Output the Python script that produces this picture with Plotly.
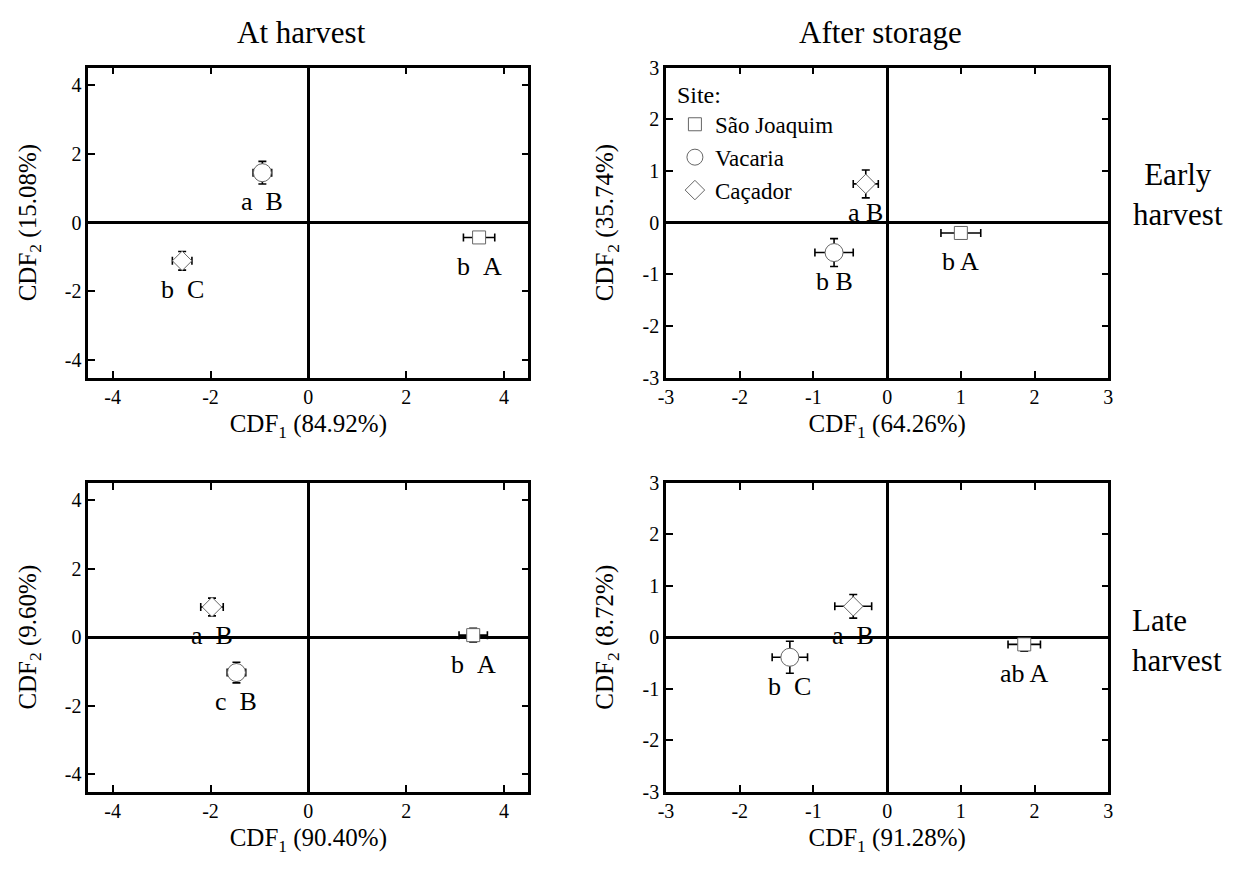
import plotly.graph_objects as go

sites = ["São Joaquim", "Vacaria", "Caçador"]
symbols = ["square", "circle", "diamond"]
sizes = [13, 18, 15]

# Panel order: early/at harvest, early/after storage, late/at harvest, late/after storage
# Each list is ordered by site: São Joaquim, Vacaria, Caçador
p_x = [[3.49, -0.94, -2.58], [1.00, -0.72, -0.29], [3.37, -1.47, -1.97], [1.86, -1.32, -0.46]]
p_y = [[-0.43, 1.45, -1.11], [-0.20, -0.58, 0.75], [0.06, -1.03, 0.88], [-0.14, -0.39, 0.60]]
p_ex = [[0.32, 0.19, 0.20], [0.27, 0.26, 0.17], [0.29, 0.19, 0.23], [0.22, 0.24, 0.25]]
p_ey = [[0.16, 0.33, 0.27], [0.12, 0.27, 0.27], [0.20, 0.30, 0.26], [0.13, 0.31, 0.23]]
p_lab = [["b\u00a0\u00a0A", "a\u00a0\u00a0B", "b\u00a0\u00a0C"],
         ["b A", "b B", "a B"],
         ["b\u00a0\u00a0A", "c\u00a0\u00a0B", "a\u00a0\u00a0B"],
         ["ab A", "b\u00a0\u00a0C", "a\u00a0\u00a0B"]]

xvar = ["84.92", "64.26", "90.40", "91.28"]
yvar = ["15.08", "35.74", "9.60", "8.72"]

wide_ticks = [-4, -2, 0, 2, 4]
narrow_ticks = [-3, -2, -1, 0, 1, 2, 3]
wide_range = [-4.5, 4.5]
narrow_range = [-3, 3]

# page is 1239x872; the body keeps its default 8px margin, so the figure is 16px smaller
OFF = 8
W, H = 1239 - 2 * OFF, 872 - 2 * OFF
col_px = [(81, 526), (665, 1112)]
row_px = [(58, 376), (484, 801)]


def px_x(v):
    return (v - OFF) / W


def px_y(v):
    return 1 - (v - OFF) / H


FONT = "Liberation Serif, Times New Roman, serif"
fig = go.Figure()

for p in range(4):
    r, c = divmod(p, 2)
    xa = "x" if p == 0 else f"x{p+1}"
    ya = "y" if p == 0 else f"y{p+1}"
    for s in range(3):
        fig.add_trace(go.Scatter(
            x=[p_x[p][s]], y=[p_y[p][s]], xaxis=xa, yaxis=ya,
            mode="markers", name=sites[s],
            showlegend=(p == 0),
            marker=dict(symbol=symbols[s], size=sizes[s],
                        color="white", line=dict(color="#666666", width=1)),
            error_x=dict(type="data", array=[p_ex[p][s]], color="black", thickness=1.6, width=4),
            error_y=dict(type="data", array=[p_ey[p][s]], color="black", thickness=1.6, width=4),
        ))
        fig.add_annotation(x=p_x[p][s], y=p_y[p][s], xref=xa, yref=ya, text=p_lab[p][s],
                           showarrow=False, yshift=-29, font=dict(family=FONT, size=26, color="black"))
    ticks = wide_ticks if c == 0 else narrow_ticks
    rng = wide_range if c == 0 else narrow_range
    ax = dict(range=rng, tickvals=ticks, ticktext=[str(t) for t in ticks],
              ticks="inside", ticklen=7, tickwidth=2, tickcolor="black",
              showline=True, linewidth=2.5, linecolor="black", mirror="ticks",
              showgrid=False, zeroline=True, zerolinewidth=2.5, zerolinecolor="black",
              tickfont=dict(family=FONT, size=20, color="black"), fixedrange=True)
    x0, x1 = col_px[c]
    y0, y1 = row_px[r]
    xkey = "xaxis" if p == 0 else f"xaxis{p+1}"
    ykey = "yaxis" if p == 0 else f"yaxis{p+1}"
    fig.update_layout({
        xkey: dict(ax, domain=[px_x(x0), px_x(x1)], anchor=ya,
                   title=dict(text=f"CDF<sub>1</sub> ({xvar[p]}%)", standoff=8,
                              font=dict(family=FONT, size=25, color="black"))),
        ykey: dict(ax, domain=[px_y(y1), px_y(y0)], anchor=xa,
                   title=dict(text=f"CDF<sub>2</sub> ({yvar[p]}%)", standoff=22,
                              font=dict(family=FONT, size=25, color="black"))),
    })

# column and row headers
for txt, xc in (("At harvest", 297), ("After storage", 882)):
    fig.add_annotation(x=px_x(xc), y=px_y(22), xref="paper", yref="paper", text=txt,
                       showarrow=False, xanchor="center", yanchor="middle",
                       font=dict(family=FONT, size=31, color="black"))
fig.add_annotation(x=px_x(1182), y=px_y(188), xref="paper", yref="paper", text="Early<br>harvest",
                   showarrow=False, xanchor="center", yanchor="middle", align="center",
                   font=dict(family=FONT, size=31, color="black"))
fig.add_annotation(x=px_x(1134), y=px_y(646), xref="paper", yref="paper", text="Late<br>harvest",
                   showarrow=False, xanchor="left", yanchor="middle", align="left",
                   font=dict(family=FONT, size=31, color="black"))

fig.update_layout(
    width=W, height=H, margin=dict(l=0, r=0, t=0, b=0),
    paper_bgcolor="white", plot_bgcolor="white",
    showlegend=True,
    legend=dict(x=px_x(674), y=px_y(62), xanchor="left", yanchor="top",
                bgcolor="rgba(0,0,0,0)", borderwidth=0,
                title=dict(text="Site:", font=dict(family=FONT, size=24, color="black")),
                font=dict(family=FONT, size=23, color="black"), tracegroupgap=0),
)

fig.write_html("out.html", config={"displayModeBar": False})
